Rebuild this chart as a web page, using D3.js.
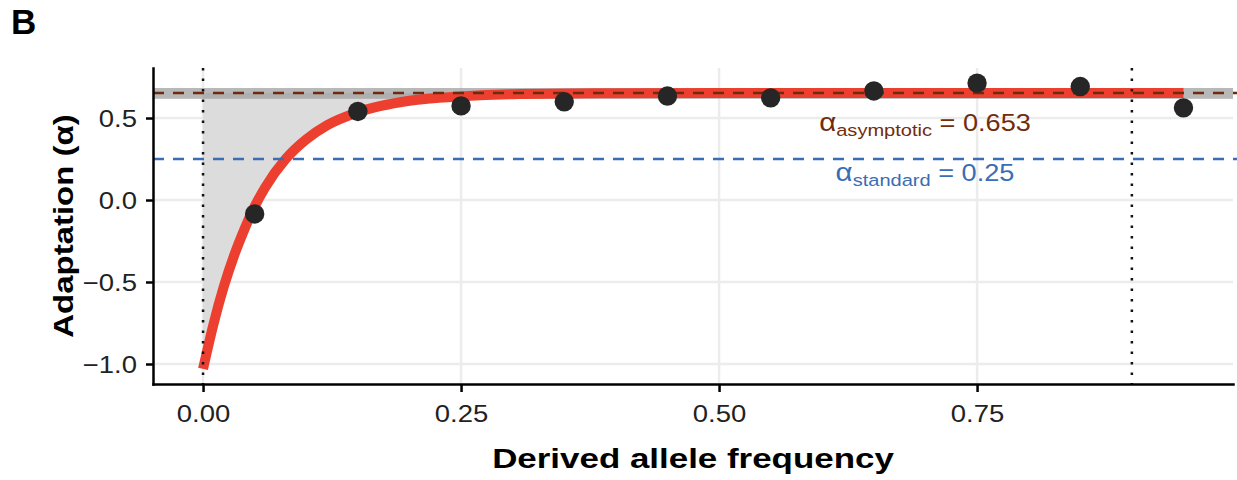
<!DOCTYPE html>
<html lang="en">
<head>
    <meta charset="UTF-8">
    <title>Adaptation vs derived allele frequency</title>
    <script src="https://d3js.org/d3.v7.min.js"></script>
    <style>
        body {
            margin: 0;
            background: #fff;
            overflow: hidden;
        }
        svg {
            display: block;
            font-family: "Liberation Sans", Arial, sans-serif;
        }
        .grid line {
            stroke: #ececec;
            stroke-width: 2.5px;
        }
        .axis path, .axis line {
            stroke: #000;
            stroke-width: 2.5px;
        }
        .axis text {
            fill: #222;
            font-size: 23.5px;
        }
        .title {
            font-weight: bold;
            font-size: 27.5px;
            fill: #000;
        }
    </style>
</head>
<body>
    <svg width="1237" height="480"></svg>

    <script>
        // binned points: derived allele frequency vs alpha
        const freqBins = [0.05, 0.15, 0.25, 0.35, 0.45, 0.55, 0.65, 0.75, 0.85, 0.95];
        const alphaVals = [-0.085, 0.54, 0.574, 0.599, 0.634, 0.623, 0.665, 0.713, 0.692, 0.562];

        // fitted curve
        const fitX = [0, 0.01, 0.02, 0.03, 0.04, 0.05, 0.06, 0.08, 0.10, 0.12, 0.15, 0.20, 0.25, 0.30, 0.40, 0.50, 0.60, 0.70, 0.80, 0.90, 0.95];
        const fitY = [-1.03, -0.76, -0.53, -0.34, -0.18, -0.04, 0.075, 0.25, 0.37, 0.455, 0.535, 0.605, 0.632, 0.645, 0.651, 0.653, 0.653, 0.653, 0.653, 0.653, 0.653];

        const alphaAsym = 0.653;
        const asymCI = [0.617, 0.683];
        const alphaStd = 0.25;
        const cutoffs = [0, 0.9];

        const xTicks = [0, 0.25, 0.5, 0.75];
        const xTickLabels = ["0.00", "0.25", "0.50", "0.75"];
        const yTicks = [-1.0, -0.5, 0.0, 0.5];
        const yTickLabels = ["\u22121.0", "\u22120.5", "0.0", "0.5"];

        const svg = d3.select("svg");
        const L = 153, R = 1233, T = 68, B = 384;

        const x = d3.scaleLinear().domain([-0.0485, 0.998]).range([L, R]);
        const y = d3.scaleLinear().domain([-1.122, 0.805]).range([B, T]);

        // grid
        const grid = svg.append("g").attr("class", "grid");
        grid.selectAll("line.h").data(yTicks).enter().append("line")
            .attr("x1", L).attr("x2", R)
            .attr("y1", d => y(d)).attr("y2", d => y(d));
        grid.selectAll("line.v").data(xTicks).enter().append("line")
            .attr("y1", T).attr("y2", B)
            .attr("x1", d => x(d)).attr("x2", d => x(d));

        const fit = fitX.map((d, i) => ({ x: d, y: fitY[i] }));

        // shaded area between fit and asymptote
        svg.append("path")
            .datum(fit.filter(d => d.x <= cutoffs[1]))
            .attr("fill", "#dcdcdc")
            .attr("d", d3.area()
                .x(d => x(d.x))
                .y0(y(alphaAsym))
                .y1(d => y(d.y))
                .curve(d3.curveMonotoneX));

        // confidence band of asymptotic alpha
        svg.append("rect")
            .attr("x", L).attr("width", R - L)
            .attr("y", y(asymCI[1]))
            .attr("height", y(asymCI[0]) - y(asymCI[1]))
            .attr("fill", "#a0a0a0")
            .attr("opacity", 0.75);

        // fitted curve
        svg.append("path")
            .datum(fit)
            .attr("fill", "none")
            .attr("stroke", "#ec3f2f")
            .attr("stroke-width", 10)
            .attr("d", d3.line()
                .x(d => x(d.x))
                .y(d => y(d.y))
                .curve(d3.curveMonotoneX));

        // reference lines
        svg.append("line")
            .attr("x1", L).attr("x2", R + 4)
            .attr("y1", y(alphaAsym)).attr("y2", y(alphaAsym))
            .attr("stroke", "#6e2a0c").attr("stroke-width", 2.5)
            .attr("stroke-dasharray", "11,9");
        svg.append("line")
            .attr("x1", L).attr("x2", R + 4)
            .attr("y1", y(alphaStd)).attr("y2", y(alphaStd))
            .attr("stroke", "#3a6db5").attr("stroke-width", 2.5)
            .attr("stroke-dasharray", "11,9");

        svg.selectAll("line.cut").data(cutoffs).enter().append("line")
            .attr("x1", d => x(d)).attr("x2", d => x(d))
            .attr("y1", T).attr("y2", B)
            .attr("stroke", "#111").attr("stroke-width", 2.5)
            .attr("stroke-dasharray", "2.5,8");

        // points
        svg.selectAll("circle").data(freqBins).enter().append("circle")
            .attr("cx", d => x(d))
            .attr("cy", (d, i) => y(alphaVals[i]))
            .attr("r", 9.7)
            .attr("fill", "#262626");

        // axes
        const yAxis = svg.append("g").attr("class", "axis")
            .attr("transform", `translate(${L},0)`)
            .call(d3.axisLeft(y).tickValues(yTicks).tickSize(7).tickSizeOuter(0)
                .tickFormat((d, i) => yTickLabels[i]));
        yAxis.selectAll(".tick text")
            .attr("x", 0).attr("dy", "0.36em")
            .attr("transform", "translate(-16,0) scale(1.17,1)");

        const xAxis = svg.append("g").attr("class", "axis")
            .attr("transform", `translate(0,${B})`)
            .call(d3.axisBottom(x).tickValues(xTicks).tickSize(8).tickSizeOuter(0)
                .tickFormat((d, i) => xTickLabels[i]));
        xAxis.selectAll(".tick text")
            .attr("y", 0).attr("dy", 0)
            .attr("transform", "translate(0,38) scale(1.17,1)");
        svg.selectAll(".axis .domain").attr("stroke-linecap", "square");

        // annotations
        function label(cx, cy, sub, value, color) {
            const t = svg.append("text")
                .attr("transform", `translate(${cx},${cy}) scale(1.18,1)`)
                .attr("text-anchor", "middle")
                .attr("fill", color)
                .style("font-size", "23px");
            t.append("tspan").style("font-size", "25px").text("\u03b1");
            t.append("tspan").attr("dy", 5).style("font-size", "17px").text(sub);
            t.append("tspan").attr("dy", -5).text(" = " + value);
        }
        label(925, 131, "asymptotic", alphaAsym.toFixed(3), "#722c0e");
        label(925, 181, "standard", String(alphaStd), "#3a6db5");

        // titles
        svg.append("text").attr("class", "title")
            .attr("transform", `translate(${(L + R) / 2},468) scale(1.27,1)`)
            .attr("text-anchor", "middle")
            .text("Derived allele frequency");

        svg.append("text").attr("class", "title")
            .attr("transform", `translate(73,${(T + B) / 2}) rotate(-90) scale(1.2,1)`)
            .attr("text-anchor", "middle")
            .text("Adaptation (\u03b1)");

        svg.append("text")
            .attr("x", 11).attr("y", 34)
            .style("font-weight", "bold").style("font-size", "35px")
            .text("B");
    </script>
</body>
</html>
